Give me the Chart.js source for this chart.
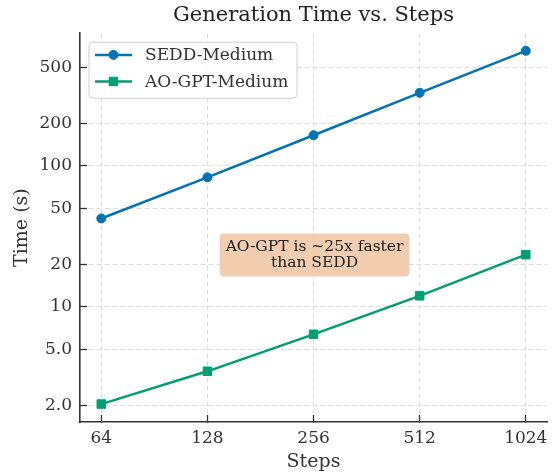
<!DOCTYPE html>
<html>
<head>
<meta charset="utf-8">
<title>Generation Time vs. Steps</title>
<script src="https://cdn.jsdelivr.net/npm/chart.js@4.4.0/dist/chart.umd.min.js"></script>
<style>
  html, body { margin: 0; padding: 0; background: #fff; }
</style>
</head>
<body>
<canvas id="timeChart" width="555" height="473"></canvas>
<script>
// values (log-log)
const steps = [64, 128, 256, 512, 1024];
const seddTime = [42.4, 83, 165, 330, 655];
const aoGptTime = [2.05, 3.5, 6.4, 12.0, 23.5];
const timeTicks = [2, 5, 10, 20, 50, 100, 200, 500];
const seriesNames = ['SEDD-Medium', 'AO-GPT-Medium'];
const noteLines = ['AO-GPT is ~25x faster', 'than SEDD'];

const SERIF = '"DejaVu Serif", serif';
const INK = '#333333';

function roundRect(ctx, x, y, w, h, r) {
  ctx.beginPath();
  ctx.moveTo(x + r, y);
  ctx.lineTo(x + w - r, y);
  ctx.arcTo(x + w, y, x + w, y + r, r);
  ctx.lineTo(x + w, y + h - r);
  ctx.arcTo(x + w, y + h, x + w - r, y + h, r);
  ctx.lineTo(x + r, y + h);
  ctx.arcTo(x, y + h, x, y + h - r, r);
  ctx.lineTo(x, y + r);
  ctx.arcTo(x, y, x + r, y, r);
  ctx.closePath();
}

// legend drawn inside the plot, upper left
const insideLegend = {
  id: 'insideLegend',
  afterDatasetsDraw(chart) {
    const ctx = chart.ctx;
    const area = chart.chartArea;
    const x0 = area.left + 9, y0 = area.top + 9, w = 208, h = 56;
    ctx.save();
    roundRect(ctx, x0, y0, w, h, 4);
    ctx.fillStyle = 'rgba(255,255,255,0.9)';
    ctx.fill();
    ctx.strokeStyle = '#d0d0d0';
    ctx.lineWidth = 1;
    ctx.stroke();

    chart.data.datasets.forEach((ds, i) => {
      const cy = y0 + 12.7 + i * 26.6;
      ctx.strokeStyle = ds.borderColor;
      ctx.lineWidth = ds.borderWidth;
      ctx.beginPath();
      ctx.moveTo(x0 + 6, cy);
      ctx.lineTo(x0 + 43, cy);
      ctx.stroke();
      ctx.fillStyle = ds.borderColor;
      ctx.strokeStyle = ds.borderColor;
      ctx.lineWidth = 1;
      Chart.helpers.drawPoint(ctx, {
        pointStyle: ds.pointStyle, radius: ds.pointRadius, rotation: 0, borderWidth: 1
      }, x0 + 24.5, cy);
      ctx.fillStyle = INK;
      ctx.font = '17px ' + SERIF;
      ctx.textAlign = 'left';
      ctx.textBaseline = 'middle';
      ctx.fillText(ds.label, x0 + 56, cy + 1);
    });
    ctx.restore();
  }
};

// the text box in the middle of the plot
const noteBox = {
  id: 'noteBox',
  afterDatasetsDraw(chart) {
    const ctx = chart.ctx;
    const cx = chart.scales.x.getPixelForValue(256) + 1;
    const cy = chart.scales.y.getPixelForValue(23.4);
    ctx.save();
    ctx.font = '15.5px ' + SERIF;
    const lineH = 16;
    const tw = Math.max(...noteLines.map(t => ctx.measureText(t).width));
    const bw = tw + 12, bh = lineH * noteLines.length + 11;
    roundRect(ctx, cx - bw / 2, cy - bh / 2, bw, bh, 4);
    ctx.fillStyle = '#f2cdb0';
    ctx.fill();
    ctx.fillStyle = '#222222';
    ctx.textAlign = 'center';
    ctx.textBaseline = 'middle';
    noteLines.forEach((t, i) => {
      ctx.fillText(t, cx, cy - lineH / 2 + i * lineH);
    });
    ctx.restore();
  }
};

const gridColor = '#dddddd';

new Chart(document.getElementById('timeChart'), {
  type: 'line',
  data: {
    datasets: [
      {
        label: seriesNames[0],
        data: steps.map((s, i) => ({x: s, y: seddTime[i]})),
        borderColor: '#0173b2',
        backgroundColor: '#0173b2',
        borderWidth: 2.5,
        pointStyle: 'circle',
        pointRadius: 4.5,
        pointBorderWidth: 1,
        tension: 0
      },
      {
        label: seriesNames[1],
        data: steps.map((s, i) => ({x: s, y: aoGptTime[i]})),
        borderColor: '#029e73',
        backgroundColor: '#029e73',
        borderWidth: 2.5,
        pointStyle: 'rect',
        pointRadius: 6,
        pointBorderWidth: 1,
        tension: 0
      }
    ]
  },
  options: {
    responsive: false,
    animation: false,
    layout: { padding: { left: 0, right: 8, top: 0, bottom: 0 } },
    plugins: {
      legend: { display: false },
      tooltip: { enabled: false },
      title: {
        display: true,
        fullSize: false,
        text: 'Generation Time vs. Steps',
        color: '#222222',
        font: { family: SERIF, size: 21, weight: 'normal' },
        padding: { top: 3, bottom: 5 }
      }
    },
    scales: {
      x: {
        type: 'logarithmic',
        position: 'bottom',
        min: 55.7,
        max: 1176,
        afterBuildTicks: scale => { scale.ticks = steps.map(v => ({value: v})); },
        afterFit: scale => { scale.height = 51; scale.paddingLeft = 0; scale.paddingRight = 0; },
        ticks: {
          color: INK,
          padding: 13,
          maxRotation: 0,
          font: { family: SERIF, size: 17 },
          callback: v => String(v)
        },
        grid: {
          color: gridColor,
          lineWidth: 1,
          tickLength: -7,
          tickColor: INK,
          tickWidth: 1.3
        },
        border: { color: INK, width: 1.6, dash: [5, 3] },
        title: {
          display: true,
          text: 'Steps',
          color: INK,
          font: { family: SERIF, size: 19 },
          padding: { top: 0, bottom: 0 }
        }
      },
      y: {
        type: 'logarithmic',
        position: 'left',
        min: 1.53,
        max: 873,
        afterBuildTicks: scale => { scale.ticks = timeTicks.map(v => ({value: v})); },
        afterFit: scale => { scale.width = 80; scale.paddingTop = 0; scale.paddingBottom = 0; },
        ticks: {
          color: INK,
          padding: 15,
          font: { family: SERIF, size: 17 },
          callback: v => (v < 10 ? v.toFixed(1) : String(v))
        },
        grid: {
          color: gridColor,
          lineWidth: 1,
          tickLength: -7,
          tickColor: INK,
          tickWidth: 1.3
        },
        border: { color: INK, width: 1.6, dash: [5, 3] },
        title: {
          display: true,
          text: 'Time (s)',
          color: INK,
          font: { family: SERIF, size: 19 },
          padding: { top: 11, bottom: 0 }
        }
      }
    }
  },
  plugins: [insideLegend, noteBox]
});
</script>
</body>
</html>
